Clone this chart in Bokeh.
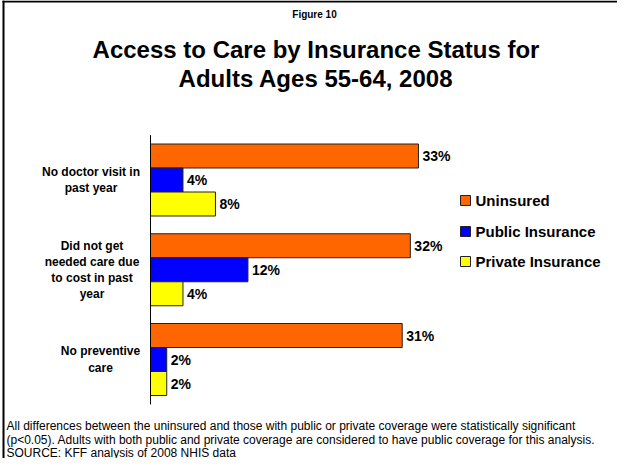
from bokeh.plotting import figure
from bokeh.models import Range1d, ColumnDataSource
from bokeh.core.properties import value
from bokeh.embed import file_html
from bokeh.resources import INLINE

# ---- data ----
categories = ["No doctor visit in\npast year",
              "Did not get\nneeded care due\nto cost in past\nyear",
              "No preventive\ncare"]
series = ["Uninsured", "Public Insurance", "Private Insurance"]
uninsured = [33, 32, 31]
public = [4, 12, 2]
private = [8, 4, 2]
colors = ["#FF6600", "#0000FF", "#FFFF00"]

title_top = "Figure 10"
title_lines = ["Access to Care by Insurance Status for", "Adults Ages 55-64, 2008"]
notes = [
    "All differences between the uninsured and those with public or private coverage were statistically significant",
    "(p<0.05).  Adults with both public and private coverage are considered to have public coverage for this analysis.",
    "SOURCE: KFF analysis of 2008 NHIS data",
]

# ---- layout (window pixels; the figure sits at the page's 8px margin) ----
W, H = 617, 458
M = 8             # page margin
X0 = 158.0        # window x of 0%
SX = 8.12         # px per percent
Y0 = 187.5        # window y of first category centre
SY = 89.75        # px per category
FONT = "Liberation Sans"

def px(xw):
    return (xw - X0) / SX

def py(yw):
    return (yw - Y0) / SY

p = figure(width=W, height=H, output_backend="svg", toolbar_location=None,
           x_range=Range1d(px(M), px(M + W)), y_range=Range1d(py(M + H), py(M)),
           min_border=0, outline_line_color=None)
p.axis.visible = False
p.grid.visible = False
p.background_fill_color = "white"
p.border_fill_color = "white"

# frame lines
p.segment(x0=[px(10), px(11)], y0=[py(9), py(8)], x1=[px(M + W), px(11)], y1=[py(9), py(M + H)],
          line_color="black", line_width=2)

bar_h = 24.0 / SY
offsets = [-bar_h, 0.0, bar_h]
vals = [uninsured, public, private]
for s, vlist, col, off in zip(series, vals, colors, offsets):
    ys = [i + off for i in range(len(categories))]
    src = ColumnDataSource(dict(y=ys, v=vlist,
                                lab=[f"{v}%" for v in vlist],
                                lx=[v + 4.0 / SX for v in vlist]))
    p.hbar(y="y", left=0, right="v", height=bar_h, source=src,
           fill_color=col, line_color="#222222", line_width=1)
    p.text(x="lx", y="y", text="lab", source=src, text_font=value(FONT),
           text_font_style="bold", text_font_size="14px",
           text_baseline="middle", text_align="left", text_color="black")

# category axis line
p.segment(x0=[0], y0=[-0.5], x1=[0], y1=[len(categories) - 0.5],
          line_color="black", line_width=1)

# category labels (lines centred within a right-aligned block)
label_cx = [98.5, 99.5, 108.0]
p.text(x=[px(c) for c in label_cx], y=list(range(len(categories))), text=categories,
       text_font=value(FONT), text_font_style="bold", text_font_size="12px",
       text_align="center", text_baseline="middle", text_line_height=1.15,
       text_color="black")

# legend
leg_y = [208.0, 239.0, 269.0]
p.rect(x=[px(473)] * 3, y=[py(v) for v in leg_y], width=10 / SX, height=10 / SY,
       fill_color=colors, line_color="#222222", line_width=1)
p.text(x=[px(483)] * 3, y=[py(v) for v in leg_y], text=series,
       text_font=value(FONT), text_font_style="bold", text_font_size="15px",
       text_align="left", text_baseline="middle", text_color="black")

# titles
p.text(x=[px(322)], y=[py(22)], text=[title_top], text_font=value(FONT),
       text_font_style="bold", text_font_size="10px", text_align="center",
       text_baseline="alphabetic", text_color="black")
p.text(x=[px(323.5)] * 2, y=[py(57), py(86)], text=title_lines, text_font=value(FONT),
       text_font_style="bold", text_font_size="24px", text_align="center",
       text_baseline="alphabetic", text_color="black")

# footnotes
p.text(x=[px(14)] * 3, y=[py(433), py(447), py(460)], text=notes, text_font=value(FONT),
       text_font_size="12px", text_align="left", text_baseline="middle",
       text_color="black")

open("out.html", "w").write(file_html(p, INLINE))
